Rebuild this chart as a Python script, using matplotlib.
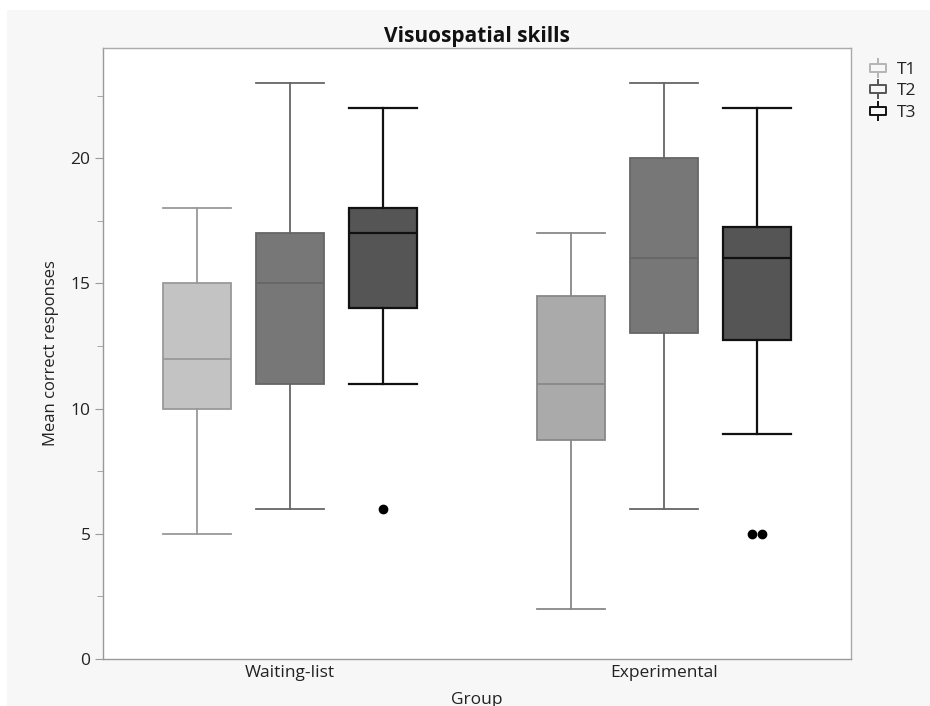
import matplotlib.pyplot as plt
from matplotlib.lines import Line2D
from matplotlib.path import Path
from matplotlib.patches import Rectangle

plt.rcParams['font.family'] = ['Open Sans', 'DejaVu Sans']

groups = ["Waiting-list", "Experimental"]
times = ["T1", "T2", "T3"]

# five-number summaries per group, one entry per time point
wl_low = [5, 6, 11]
wl_q1 = [10, 11, 14]
wl_med = [12, 15, 17]
wl_q3 = [15, 17, 18]
wl_high = [18, 23, 22]
wl_out = [[], [], [6]]

ex_low = [2, 6, 9]
ex_q1 = [8.75, 13, 12.75]
ex_med = [11, 16, 16]
ex_q3 = [14.5, 20, 17.25]
ex_high = [17, 23, 22]
ex_out = [[], [], [5, 5]]

fills = {"Waiting-list": ["#c3c3c3", "#777777", "#555555"],
         "Experimental": ["#aaaaaa", "#777777", "#555555"]}
edges = {"Waiting-list": ["#999999", "#666666", "#111111"],
         "Experimental": ["#888888", "#666666", "#111111"]}

fig = plt.figure(figsize=(9.3, 7.06), dpi=100)
fig.patch.set_facecolor("white")
fig.patches.append(Rectangle((7 / 930, 0), 1, 1 - 10 / 706, transform=fig.transFigure,
                             facecolor="#f7f7f7", edgecolor="none", zorder=-10))
ax = fig.add_axes([103 / 930, 1 - 659 / 706, 748 / 930, 611 / 706])
ax.set_facecolor("white")

offsets = [-0.249, 0.0, 0.249]
width = 0.18
summaries = [(wl_low, wl_q1, wl_med, wl_q3, wl_high, wl_out),
             (ex_low, ex_q1, ex_med, ex_q3, ex_high, ex_out)]

for gi, (g, s) in enumerate(zip(groups, summaries)):
    low, q1, med, q3, high, out = s
    for ti in range(3):
        st = [dict(whislo=low[ti], q1=q1[ti], med=med[ti], q3=q3[ti],
                   whishi=high[ti], fliers=[])]
        ec = edges[g][ti]
        lw = 1.6 if ti == 2 else 1.3
        ax.bxp(st, positions=[gi + offsets[ti]], widths=width, patch_artist=True,
               showfliers=False, capwidths=width, manage_ticks=False,
               boxprops=dict(facecolor=fills[g][ti], edgecolor=ec, linewidth=lw),
               medianprops=dict(color=ec, linewidth=lw),
               whiskerprops=dict(color=ec, linewidth=lw),
               capprops=dict(color=ec, linewidth=lw))
        # outliers, side by side when repeated
        n = len(out[ti])
        for k, v in enumerate(out[ti]):
            dx = (k - (n - 1) / 2) * 0.025
            ax.plot(gi + offsets[ti] + dx, v, "o", color="black", markersize=6, zorder=5)

ax.set_xlim(-0.5, 1.5)
ax.set_ylim(0, 24.4)
ax.set_xticks([0, 1])
ax.set_xticklabels(groups, fontsize=12.5, color="#222222")
ax.tick_params(axis="x", length=0, pad=4)
ax.set_yticks([0, 5, 10, 15, 20])
ax.set_yticks([2.5, 7.5, 12.5, 17.5, 22.5], minor=True)
ax.tick_params(axis="y", which="major", length=6, color="#999999", labelsize=12.5,
               labelcolor="#222222", pad=3)
ax.tick_params(axis="y", which="minor", length=4, color="#999999")
for sp in ax.spines.values():
    sp.set_color("#aaaaaa")
    sp.set_linewidth(1.0)
ax.spines["left"].set_color("#999999")
ax.spines["bottom"].set_color("#999999")

ax.set_xlabel("Group", fontsize=12.5, color="#222222", labelpad=8)
ax.set_ylabel("Mean correct responses", fontsize=12, color="#222222", labelpad=8)
ax.set_title("Visuospatial skills", fontsize=15, fontweight="bold", color="#111111", pad=4)

# small box-plot glyph for the legend
icon = Path([(-1, -0.55), (1, -0.55), (1, 0.55), (-1, 0.55), (-1, -0.55),
             (0, 0.55), (0, 1.2), (0, -0.55), (0, -1.2)],
            [Path.MOVETO, Path.LINETO, Path.LINETO, Path.LINETO, Path.CLOSEPOLY,
             Path.MOVETO, Path.LINETO, Path.MOVETO, Path.LINETO])
icon_colors = ["#b5b5b5", "#555555", "#111111"]
handles = [Line2D([], [], linestyle="none", marker=icon, markersize=14,
                  markerfacecolor="none", markeredgecolor=c, markeredgewidth=1.4)
           for c in icon_colors]
leg = fig.legend(handles, times, loc="upper left", bbox_to_anchor=(862 / 930, 1 - 55 / 706),
                 frameon=False, fontsize=12.5, handlelength=1.0, handletextpad=0.6,
                 labelspacing=0.3, borderaxespad=0)
for t in leg.get_texts():
    t.set_color("#222222")

fig.savefig("out.png", dpi=100, facecolor=fig.get_facecolor())
